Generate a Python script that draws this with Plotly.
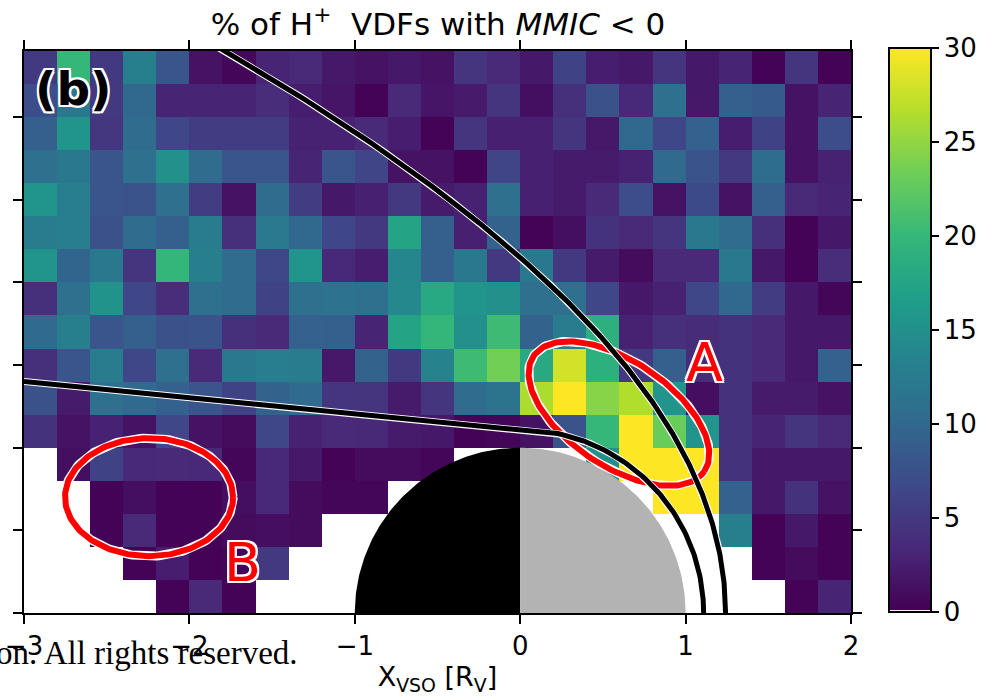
import numpy as np
import plotly.graph_objects as go
import plotly.colors as pc

# ---------------- data ----------------
x_edges = np.round(np.arange(-3.0, 2.0001, 0.2), 3)   # X_VSO bin edges [R_V]
y_edges = np.round(np.arange(0.0, 3.4001, 0.2), 3)    # rho bin edges [R_V]
N = None
# % of H+ VDFs with MMIC < 0, rows from y=0 (bottom) to top, 25 columns each
pct = [
    [N, N, N, N, 0.3, 3.5, 0.3, N, N, N, N, N, N, N, N, N, N, N, N, N, N, N, N, 0.3, 3],
    [N, N, N, 0.3, 2.5, 0.3, 0.5, 5, N, N, N, N, N, N, N, N, N, N, N, N, N, N, 0.3, 1, 0.3],
    [N, N, 0.3, 3.5, 0.3, 0.3, 1, 1.2, 1, N, N, N, N, N, N, N, N, N, N, N, N, 13, 0.3, 2, 0.3],
    [N, N, 0.3, 1.3, 0.3, 0.3, 1.3, 3.3, 1, 0.5, 0.5, N, N, N, N, N, N, N, N, 30, 30, 9.2, 2, 4.3, 1.5],
    [N, 1.3, 6, 3.3, 3.5, 3.3, 0.5, 3.3, 2, 0.3, 1, 1, 0.5, N, N, N, N, 15, 30, 30, 30, 4.3, 2, 2, 2],
    [4.3, 1.5, 2.8, 1.5, 6.5, 1.5, 1, 6.5, 2.8, 3.5, 3.4, 2.3, 2, 0.3, 0.5, 1.5, 7.7, 20, 30, 23, 15.5, 4.3, 3, 4.5, 3.5],
    [7.5, 2.3, 11, 10.3, 9.2, 8, 6, 9.5, 10.3, 4.5, 4.5, 2.3, 4.5, 10.5, 11.5, 26.3, 30, 24.5, 26.5, 15.5, 1.2, 4.3, 2.3, 2.3, 1.5],
    [4, 8, 12.5, 6.5, 11, 3.5, 12, 12.8, 12.5, 2, 9.5, 5, 13.5, 20.5, 23.5, 18, 28, 19, 5, 9, 3.7, 4.3, 3.5, 2, 9.3],
    [10.3, 13, 8, 9, 7.5, 7.7, 4, 3.5, 9.3, 9, 3, 17.5, 19.8, 15, 20.5, 9.5, 12.5, 19, 2.8, 4, 3.7, 4.3, 3.5, 2, 2],
    [4, 11, 15.3, 6.5, 3.8, 11, 10.5, 6, 11, 11.3, 11, 14, 18, 15.5, 15, 11, 11, 6.5, 2, 2.8, 6.5, 10, 5.5, 2, 0.5],
    [15.5, 9.7, 12, 4.5, 19.8, 13, 10.5, 6.5, 15.5, 3.3, 2.5, 13.8, 9, 12, 5, 12, 5, 2.3, 1, 3.5, 3.5, 12, 2, 0.3, 3.8],
    [12.5, 12.8, 7.5, 10.5, 9, 12.5, 4, 12.2, 10, 6.5, 5, 17.5, 9, 2.7, 9.5, 0.3, 1.3, 4.3, 3.5, 4.5, 12, 10.5, 4, 0.3, 2],
    [15.5, 12.8, 8, 7.7, 11, 5.5, 1.5, 10.5, 5.5, 2, 2.7, 5, 2.3, 2.8, 11, 2.7, 2.3, 3.5, 7, 1.5, 6.8, 1.5, 9, 3.5, 3],
    [11, 12, 8, 11, 15, 10.5, 8, 8, 3, 8, 6.3, 1.5, 1.5, 0.3, 6.3, 2.7, 2.3, 2.3, 2.8, 10.3, 7.7, 5, 10.7, 1.5, 2.8],
    [9, 15.5, 4.7, 10.5, 6.5, 5.5, 5.5, 5.5, 2.8, 2.8, 3.5, 2.5, 0.3, 4.5, 2.7, 2.7, 4.5, 2, 10, 6.5, 9.3, 2.5, 6, 1.5, 7],
    [7, 12, 5, 10, 3, 3, 3, 3.8, 2.5, 1.8, 0.3, 3.5, 1.8, 2.2, 4.5, 1.3, 4, 7.5, 3.3, 11, 2, 9, 8.5, 1.5, 3],
    [5, 20, 5, 13, 8, 1.5, 0.5, 3, 3.5, 2, 1.5, 2, 1.5, 4.5, 3.5, 2, 6, 2.5, 2, 4.5, 2, 3, 0.3, 4.5, 0.3],
]
x_ticks = [-3, -2, -1, 0, 1, 2]
y_ticks = [0, 0.5, 1.0, 1.5, 2.0, 2.5, 3.0]
cb_ticks = [0, 5, 10, 15, 20, 25, 30]

# boundary models (parameters)
ICB_R0, ICB_SLOPE = 1.109, -0.097          # ion composition boundary
BS_X0, BS_L, BS_EPS = 0.337, 1.832, 1.025  # bow shock conic
ELL_A = dict(cx=0.597, cy=1.206, a=0.623, b=0.318, ang=-34.0)
ELL_B = dict(cx=-2.244, cy=0.701, a=0.508, b=0.357, ang=0.0)

FONT = "DejaVu Sans"

# ---------------- figure ----------------
vir = pc.sequential.Viridis
cscale = [[0.0, "#ffffff"], [0.004, "#ffffff"], [0.004, vir[0]]]
for i in range(1, len(vir)):
    cscale.append([i / (len(vir) - 1), vir[i]])

fig = go.Figure()
fig.add_trace(go.Heatmap(
    x=x_edges, y=y_edges, z=pct, zmin=0, zmax=30, colorscale=cscale,
    hoverongaps=False,
    colorbar=dict(thickness=42, thicknessmode="pixels", len=564, lenmode="pixels",
                  x=1.0465, xanchor="left", y=0.5036, yanchor="middle",
                  xpad=0, ypad=0, outlinecolor="black", outlinewidth=2,
                  ticks="outside", ticklen=7, tickwidth=2, tickcolor="black",
                  tickvals=cb_ticks, tickfont=dict(family=FONT, size=26, color="black")),
))

# planet: night (black) and day (grey) halves
t = np.linspace(np.pi / 2, np.pi, 100)
fig.add_trace(go.Scatter(x=np.r_[0, np.cos(t), 0], y=np.r_[0, np.sin(t), 0],
                         fill="toself", fillcolor="black", mode="lines",
                         line=dict(width=0, color="black"), hoverinfo="skip"))
t = np.linspace(0, np.pi / 2, 100)
fig.add_trace(go.Scatter(x=np.r_[0, np.cos(t), 0], y=np.r_[0, np.sin(t), 0],
                         fill="toself", fillcolor="#b3b3b3", mode="lines",
                         line=dict(width=0, color="#b3b3b3"), hoverinfo="skip"))


def ellipse(p, n=200):
    s = np.linspace(0, 2 * np.pi, n)
    ph = np.radians(p["ang"])
    ex = p["cx"] + p["a"] * np.cos(s) * np.cos(ph) - p["b"] * np.sin(s) * np.sin(ph)
    ey = p["cy"] + p["a"] * np.cos(s) * np.sin(ph) + p["b"] * np.sin(s) * np.cos(ph)
    return ex, ey


for p in (ELL_A, ELL_B):
    ex, ey = ellipse(p)
    fig.add_trace(go.Scatter(x=ex, y=ey, mode="lines", line=dict(color="white", width=9), hoverinfo="skip"))
    fig.add_trace(go.Scatter(x=ex, y=ey, mode="lines", line=dict(color="#ff0000", width=6), hoverinfo="skip"))

# ICB
xn = np.linspace(-3, 0, 60)
ang = np.linspace(np.pi / 2, 0, 100)
icb_x = np.r_[xn, ICB_R0 * np.cos(ang)]
icb_y = np.r_[ICB_R0 + ICB_SLOPE * xn, ICB_R0 * np.sin(ang)]
# bow shock
th = np.linspace(0, np.radians(130), 300)
r = BS_L / (1 + BS_EPS * np.cos(th))
bs_x = BS_X0 + r * np.cos(th)
bs_y = r * np.sin(th)
for cx_, cy_ in ((icb_x, icb_y), (bs_x, bs_y)):
    fig.add_trace(go.Scatter(x=cx_, y=cy_, mode="lines", line=dict(color="white", width=7), hoverinfo="skip"))
    fig.add_trace(go.Scatter(x=cx_, y=cy_, mode="lines", line=dict(color="black", width=5), hoverinfo="skip"))

W = "white"
outline = ", ".join(f"{dx}px {dy}px 0 {W}" for dx, dy in
                    [(2, 0), (-2, 0), (0, 2), (0, -2), (2, 2), (-2, -2), (2, -2), (-2, 2)])
fig.add_annotation(x=1.112, y=1.513, text="A", showarrow=False,
                   font=dict(family=FONT, size=54, color="#ff0000", shadow=outline))
fig.add_annotation(x=-1.680, y=0.308, text="B", showarrow=False,
                   font=dict(family=FONT, size=54, color="#ff0000", shadow=outline))
fig.add_annotation(x=-2.698, y=3.172, text="<b>(b)</b>", showarrow=False,
                   font=dict(family=FONT, size=47, color="black", shadow=outline))
fig.add_annotation(xref="paper", yref="paper", x=-0.0363, y=-0.0704, xanchor="left", yanchor="middle",
                   text="on. All rights reserved.", showarrow=False,
                   font=dict(family="Liberation Serif", size=33, color="black"))

axis_common = dict(showline=True, linecolor="black", linewidth=2, mirror="ticks",
                   ticks="outside", ticklen=9, tickwidth=2, tickcolor="black",
                   showgrid=False, zeroline=False)
fig.update_xaxes(range=[-3, 2], tickvals=x_ticks, **axis_common,
                 tickfont=dict(family=FONT, size=26, color="black"),
                 title=dict(text="X<sub>VSO</sub> [R<sub>V</sub>]", standoff=7,
                            font=dict(family=FONT, size=27, color="black")))
fig.update_yaxes(range=[0, 3.4], tickvals=y_ticks, showticklabels=False, **axis_common)

fig.update_layout(
    width=992, height=698, showlegend=False,
    margin=dict(l=24, r=140.5, t=50.7, b=84.6, autoexpand=False),
    plot_bgcolor="white", paper_bgcolor="white",
    title=dict(text="% of H<sup>+</sup>  VDFs with <i>MMIC</i> &lt; 0", xref="container", yref="container",
               x=438 / 992, xanchor="center", y=1 - 24 / 698, yanchor="middle",
               font=dict(family=FONT, size=31, color="black")),
)

fig.write_html("out.html")
